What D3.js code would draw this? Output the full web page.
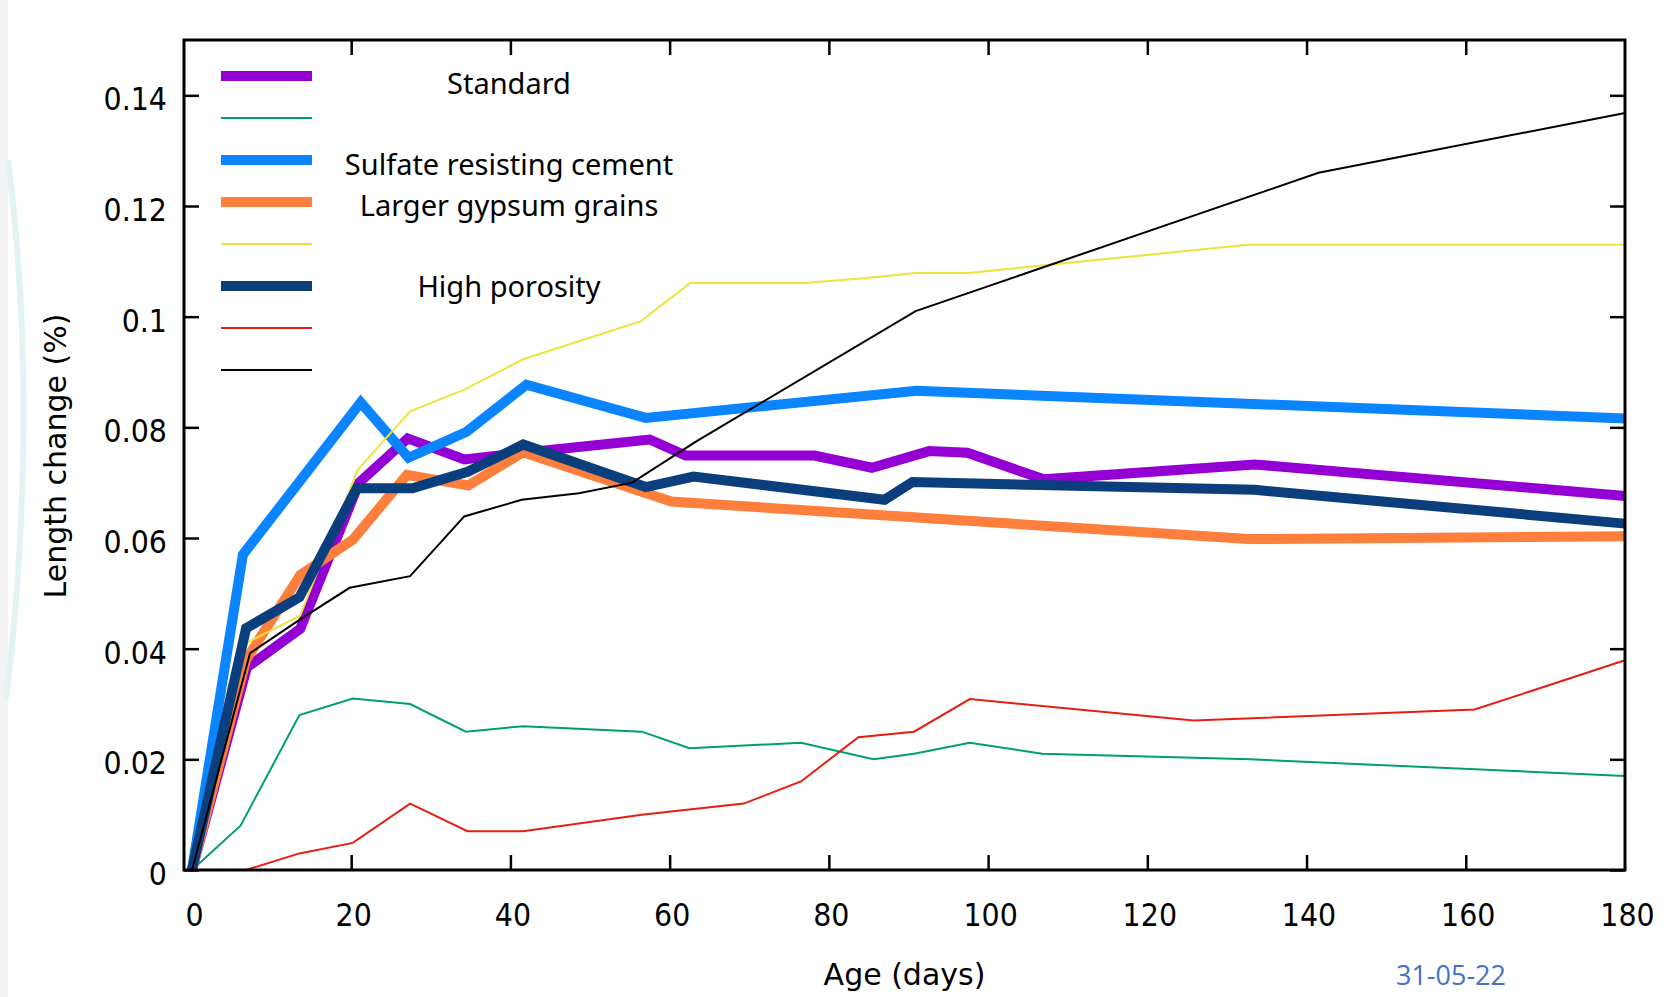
<!DOCTYPE html>
<html lang="en">
<head>
    <meta charset="utf-8">
    <title>length_change</title>
    <script src="https://cdn.jsdelivr.net/npm/d3@7"></script>
    <style type="text/css">
        body { margin: 0; background: #ffffff; }
        svg text { fill: #000; }
    </style>
</head>
<body>

<script type="text/javascript">

    // Series, as [age in days, length change in %]
    var standard = [[0,0],[6.9,0.0366],[13.6,0.0436],[21,0.070],[27.1,0.078],[34.2,0.0742],[41.6,0.0754],[57.5,0.0778],[62,0.0749],[78.2,0.0749],[85.4,0.0727],[92.6,0.0757],[97.4,0.0754],[107,0.0706],[133.5,0.0733],[180,0.0676]];
    var greenThin = [[0,0],[6.1,0.008],[13.5,0.028],[20.2,0.031],[27.4,0.030],[34.4,0.025],[41.6,0.026],[56.5,0.025],[62.5,0.022],[76.5,0.023],[85.6,0.020],[90.7,0.021],[97.7,0.023],[106.8,0.021],[132.9,0.020],[180,0.017]];
    var sulfateResisting = [[0,0],[6.4,0.057],[21.2,0.0845],[27.2,0.0745],[34.5,0.0792],[42,0.0877],[57,0.0817],[91,0.0866],[180,0.0816]];
    var largerGypsum = [[0,0],[6.8,0.038],[13.6,0.0533],[20.2,0.0597],[27,0.0714],[34.7,0.0695],[41.6,0.0755],[60.2,0.0666],[132.7,0.0598],[180,0.0603]];
    var yellowThin = [[0,0],[6.8,0.041],[13.6,0.046],[20.8,0.0723],[27.4,0.0829],[34.2,0.0868],[41.6,0.0923],[56.4,0.0992],[62.6,0.1061],[76.9,0.1061],[84.8,0.107],[90.9,0.1079],[97.5,0.1079],[132.6,0.113],[180,0.113]];
    var highPorosity = [[0,0],[6.8,0.0437],[13.5,0.0493],[20.7,0.069],[27.7,0.069],[34.7,0.072],[41.6,0.0769],[57,0.0692],[63,0.0711],[87,0.0669],[90.5,0.0701],[133.5,0.0687],[180,0.0626]];
    var redThin = [[0,0],[6.8,0],[13.5,0.003],[20.2,0.0049],[27.4,0.012],[34.6,0.007],[41.6,0.007],[56.5,0.010],[69.3,0.012],[76.5,0.016],[83.7,0.024],[90.7,0.025],[97.7,0.0309],[125.8,0.027],[161.1,0.029],[180,0.0379]];
    var blackThin = [[0,0],[7.3,0.0392],[13.5,0.0452],[19.8,0.051],[27.4,0.0531],[34.2,0.0639],[41.4,0.0669],[48.6,0.0681],[55.3,0.070],[63.4,0.0775],[90.9,0.101],[141.5,0.126],[180,0.1368]];

    // plot order = legend order
    var seriesList = [standard, greenThin, sulfateResisting, largerGypsum, yellowThin, highPorosity, redThin, blackThin];
    var legendNames = ["Standard", "", "Sulfate resisting cement", "Larger gypsum grains", "", "High porosity", "", ""];

    var xTicks = [0, 20, 40, 60, 80, 100, 120, 140, 160, 180];
    var yTicks = [0, 0.02, 0.04, 0.06, 0.08, 0.1, 0.12, 0.14];

    var xTitle = "Age (days)";
    var yTitle = "Length change (%)";
    var dateText = "31-05-22";

    // looks
    var colors = ["#9400d3", "#009e73", "#0a84ff", "#fe7f3c", "#ece33e", "#0b3e7d", "#e51e10", "#000000"];
    var widths = [10, 2, 10, 10, 2, 10, 2, 2];
    var legendTextShift = [8, 0, 5, 4, 0, 1, 0, 0];   // the labels were pasted a bit off the rows

    var width = 1668, height = 997;
    var plotLeft = 184, plotRight = 1625, plotTop = 40, plotBottom = 870;

    var svg = d3.select("body")
        .append("svg")
        .attr("width", width)
        .attr("height", height);

    // grey strip + faint swoosh at the page edge
    svg.append("rect")
        .attr("x", 0).attr("y", 0)
        .attr("width", 8).attr("height", height)
        .attr("fill", "#f2f2f2");
    svg.append("path")
        .attr("d", "M8,160 C30,330 28,520 6,700")
        .attr("fill", "none")
        .attr("stroke", "#e3f3f4")
        .attr("stroke-width", 6);

    var x = d3.scaleLinear().domain([-1, 180]).range([plotLeft, plotRight]);
    var y = d3.scaleLinear().domain([0, 0.15]).range([plotBottom, plotTop]);

    var tickFont = "'DejaVu Sans', Verdana, sans-serif";

    // axes with inward ticks, gnuplot style
    var gx = svg.append("g")
        .attr("transform", "translate(0," + plotBottom + ")")
        .call(d3.axisBottom(x).tickValues(xTicks).tickSize(-15).tickFormat(d => d));
    var gxTop = svg.append("g")
        .attr("transform", "translate(0," + plotTop + ")")
        .call(d3.axisTop(x).tickValues(xTicks.slice(1, -1)).tickSize(-15).tickFormat(""));
    var gy = svg.append("g")
        .attr("transform", "translate(" + plotLeft + ",0)")
        .call(d3.axisLeft(y).tickValues(yTicks).tickSize(-15).tickFormat(d => String(+d.toFixed(2))));
    var gyRight = svg.append("g")
        .attr("transform", "translate(" + plotRight + ",0)")
        .call(d3.axisRight(y).tickValues(yTicks).tickSize(-15).tickFormat(""));

    [gx, gxTop, gy, gyRight].forEach(function (g) {
        g.select(".domain").remove();
        g.selectAll(".tick line").attr("stroke", "#000").attr("stroke-width", 2.5);
        g.selectAll(".tick text")
            .attr("font-family", tickFont)
            .attr("font-size", 28.5)
            .attr("fill", "#000");
    });
    // no tick marks at the frame corners
    gx.selectAll(".tick line").filter(d => d === 0 || d === 180).remove();

    // the picture's digits are a bit taller than they are wide
    gx.selectAll(".tick text")
        .attr("y", 0).attr("dy", 0)
        .attr("transform", "translate(2,56) scale(1,1.12)");
    gy.selectAll(".tick text")
        .attr("x", 0).attr("dy", "0.36em")
        .attr("transform", "translate(-17,3) scale(1,1.12)");

    // lines
    var line = d3.line()
        .x(d => x(d[0]))
        .y(d => y(d[1]));

    svg.selectAll("path.series")
        .data(seriesList)
        .enter()
        .append("path")
        .attr("class", "series")
        .attr("d", line)
        .attr("fill", "none")
        .attr("stroke", (d, i) => colors[i])
        .attr("stroke-width", (d, i) => widths[i])
        .attr("stroke-linejoin", "miter")
        .attr("stroke-linecap", "butt");

    // frame
    svg.append("rect")
        .attr("x", plotLeft).attr("y", plotTop)
        .attr("width", plotRight - plotLeft).attr("height", plotBottom - plotTop)
        .attr("fill", "none")
        .attr("stroke", "#000")
        .attr("stroke-width", 3);

    // legend
    var legendRow = d3.scaleLinear().domain([0, 7]).range([76, 370]);

    svg.selectAll("line.key")
        .data(seriesList)
        .enter()
        .append("line")
        .attr("class", "key")
        .attr("x1", 221).attr("x2", 312)
        .attr("y1", (d, i) => legendRow(i))
        .attr("y2", (d, i) => legendRow(i))
        .attr("stroke", (d, i) => colors[i])
        .attr("stroke-width", (d, i) => widths[i]);

    svg.selectAll("text.key")
        .data(legendNames.filter(d => d !== ""))
        .enter()
        .append("text")
        .attr("class", "key")
        .attr("x", 509)
        .attr("y", function (d) {
            var row = legendNames.indexOf(d);
            return legendRow(row) + legendTextShift[row];
        })
        .attr("dy", "0.36em")
        .attr("text-anchor", "middle")
        .attr("font-family", "'Noto Sans', sans-serif")
        .attr("font-size", 29)
        .text(d => d);

    // titles
    svg.append("text")
        .attr("x", (plotLeft + plotRight) / 2)
        .attr("y", 985)
        .attr("text-anchor", "middle")
        .attr("font-family", tickFont)
        .attr("font-size", 30)
        .text(xTitle);

    svg.append("text")
        .attr("transform", "translate(66,456) rotate(-90)")
        .attr("text-anchor", "middle")
        .attr("font-family", tickFont)
        .attr("font-size", 30)
        .text(yTitle);

    svg.append("text")
        .attr("x", 1451)
        .attr("y", 985)
        .attr("text-anchor", "middle")
        .attr("font-family", "'Open Sans', sans-serif")
        .attr("font-size", 27)
        .style("fill", "#4472c4")
        .text(dateText);

</script>
</body>
</html>
